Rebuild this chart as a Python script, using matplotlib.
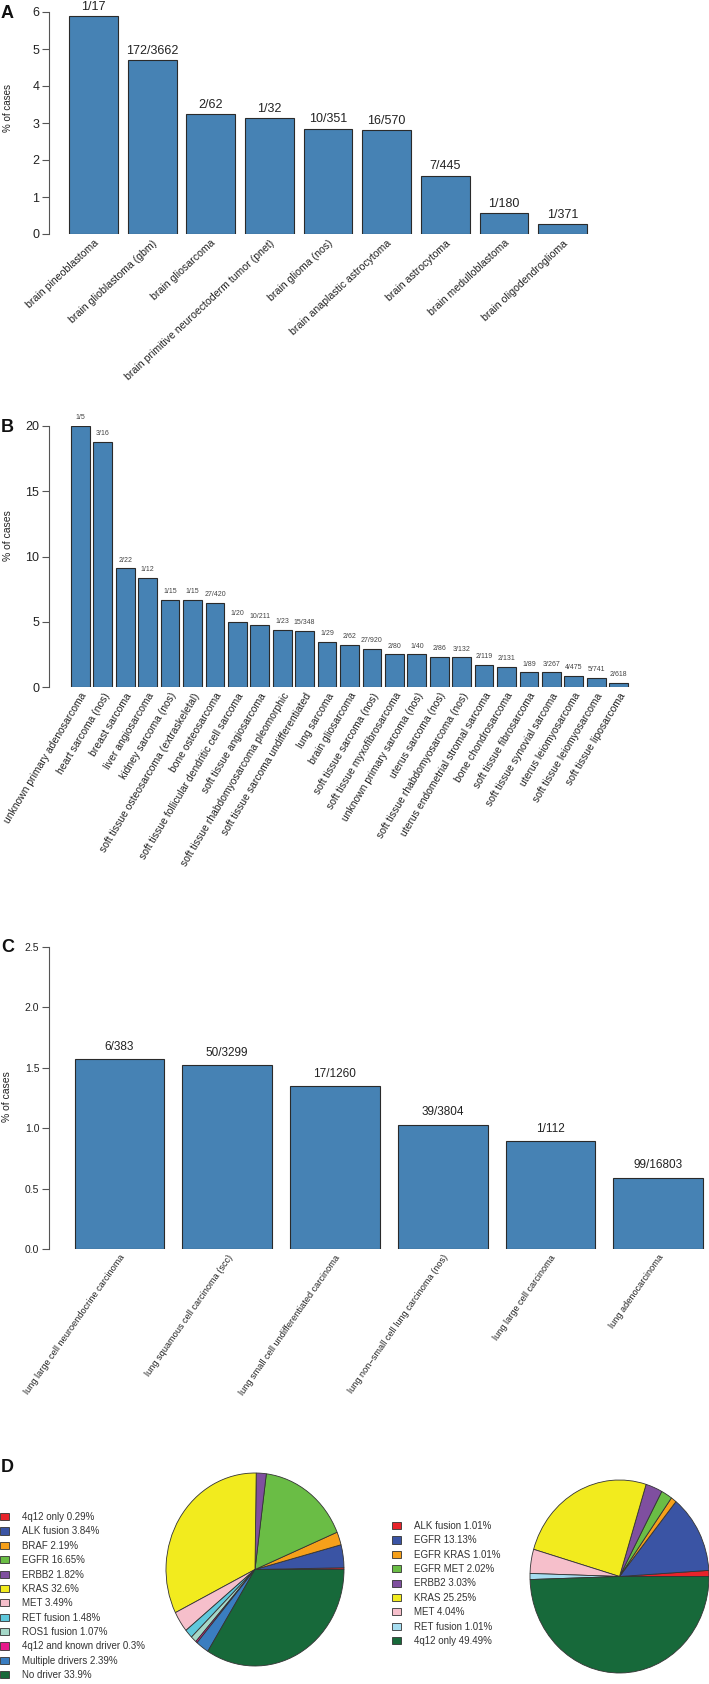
import numpy as np
import matplotlib
matplotlib.use('Agg')
import matplotlib.pyplot as plt

plt.rcParams['font.family'] = ['Liberation Sans', 'DejaVu Sans']

# Panel A
a_names = ['brain pineoblastoma', 'brain glioblastoma (gbm)', 'brain gliosarcoma',
           'brain primitive neuroectoderm tumor (pnet)', 'brain glioma (nos)',
           'brain anaplastic astrocytoma', 'brain astrocytoma', 'brain medulloblastoma',
           'brain oligodendroglioma']
a_pct = [5.88, 4.70, 3.23, 3.13, 2.85, 2.81, 1.57, 0.56, 0.27]
a_counts = ['1/17', '172/3662', '2/62', '1/32', '10/351', '16/570', '7/445', '1/180', '1/371']

# Panel B
b_names = ['unknown primary adenosarcoma', 'heart sarcoma (nos)', 'breast sarcoma',
           'liver angiosarcoma', 'kidney sarcoma (nos)', 'soft tissue osteosarcoma (extraskeletal)',
           'bone osteosarcoma', 'soft tissue follicular dendritic cell sarcoma',
           'soft tissue angiosarcoma', 'soft tissue rhabdomyosarcoma pleomorphic',
           'soft tissue sarcoma undifferentiated', 'lung sarcoma', 'brain gliosarcoma',
           'soft tissue sarcoma (nos)', 'soft tissue myxofibrosarcoma',
           'unknown primary sarcoma (nos)', 'uterus sarcoma (nos)',
           'soft tissue rhabdomyosarcoma (nos)', 'uterus endometrial stromal sarcoma',
           'bone chondrosarcoma', 'soft tissue fibrosarcoma', 'soft tissue synovial sarcoma',
           'uterus leiomyosarcoma', 'soft tissue leiomyosarcoma', 'soft tissue liposarcoma']
b_pct = [20.0, 18.75, 9.09, 8.33, 6.67, 6.67, 6.43, 5.0, 4.74, 4.35, 4.31, 3.45, 3.23,
         2.93, 2.5, 2.5, 2.33, 2.27, 1.68, 1.53, 1.12, 1.12, 0.84, 0.67, 0.32]
b_counts = ['1/5', '3/16', '2/22', '1/12', '1/15', '1/15', '27/420', '1/20', '10/211', '1/23',
            '15/348', '1/29', '2/62', '27/920', '2/80', '1/40', '2/86', '3/132', '2/119',
            '2/131', '1/89', '3/267', '4/475', '5/741', '2/618']

# Panel C
c_names = ['lung large cell neuroendocrine carcinoma', 'lung squamous cell carcinoma (scc)',
           'lung small cell undifferentiated carcinoma',
           'lung non\u2212small cell lung carcinoma (nos)', 'lung large cell carcinoma',
           'lung adenocarcinoma']
c_pct = [1.57, 1.52, 1.35, 1.03, 0.89, 0.59]
c_counts = ['6/383', '50/3299', '17/1260', '39/3804', '1/112', '99/16803']

# Panel D
d1_names = ['4q12 only 0.29%', 'ALK fusion 3.84%', 'BRAF 2.19%', 'EGFR 16.65%', 'ERBB2 1.82%',
            'KRAS 32.6%', 'MET 3.49%', 'RET fusion 1.48%', 'ROS1 fusion 1.07%',
            '4q12 and known driver 0.3%', 'Multiple drivers 2.39%', 'No driver 33.9%']
d1_pct = [0.29, 3.84, 2.19, 16.65, 1.82, 32.6, 3.49, 1.48, 1.07, 0.3, 2.39, 33.9]
d1_cols = ['#e8232a', '#3a54a4', '#f6a01a', '#6abd45', '#7f4f9f', '#f2eb1e', '#f6bfcb',
           '#5fc8dc', '#a5d8c8', '#e7198b', '#3a7dc0', '#17693a']
d2_names = ['ALK fusion 1.01%', 'EGFR 13.13%', 'EGFR KRAS 1.01%', 'EGFR MET 2.02%',
            'ERBB2 3.03%', 'KRAS 25.25%', 'MET 4.04%', 'RET fusion 1.01%', '4q12 only 49.49%']
d2_pct = [1.01, 13.13, 1.01, 2.02, 3.03, 25.25, 4.04, 1.01, 49.49]
d2_cols = ['#e8232a', '#3a54a4', '#f6a01a', '#6abd45', '#7f4f9f', '#f2eb1e', '#f6bfcb',
           '#a6ddf0', '#17693a']

W, H = 709, 1684
fig = plt.figure(figsize=(W / 100, H / 100), dpi=100)

BAR = '#4682b4'
EDGE = '#2a2a2a'
AXC = '#555555'


def px_rect(left, top, right, bottom):
    return [left / W, 1 - bottom / H, (right - left) / W, (bottom - top) / H]


def bar_panel(names, pct, counts, top, bottom, ymax, yticks, ticklabels, first_left, last_right,
              rot, lab_fs, cnt_fs, tick_fs, cnt_col, cnt_pad):
    n = len(names)
    p = (last_right - first_left) / (n - 1 + 0.833)
    c0 = first_left + 0.4167 * p
    ax = fig.add_axes(px_rect(49, top, W, bottom))
    x = np.arange(n)
    ax.bar(x, pct, width=0.833, color=BAR, edgecolor=EDGE, linewidth=0.8)
    ax.set_xlim((49 - c0) / p, (W - c0) / p)
    ax.set_ylim(0, ymax)
    for s in ['top', 'right', 'bottom']:
        ax.spines[s].set_visible(False)
    ax.spines['left'].set_color(AXC)
    ax.spines['left'].set_linewidth(0.8)
    ax.set_yticks(yticks, ticklabels)
    ax.tick_params(axis='y', length=5, width=0.8, color=AXC, labelsize=tick_fs,
                   labelcolor='#222222', pad=2)
    ax.set_xticks(x, names, rotation=rot, ha='right', rotation_mode='anchor')
    ax.tick_params(axis='x', length=0, pad=3, labelsize=lab_fs, labelcolor='#222222')
    for xi, v, c in zip(x, pct, counts):
        ax.annotate(c, (xi, v), xytext=(0, cnt_pad), textcoords='offset points',
                    ha='center', va='bottom', fontsize=cnt_fs, color=cnt_col,
                    annotation_clip=False)
    return ax


bar_panel(a_names, a_pct, a_counts, 12, 234, 6, range(7), [str(i) for i in range(7)],
          69, 587, 43, 7.6, 9, 9, '#222222', 2.5)
bar_panel(b_names, b_pct, b_counts, 426, 687, 20, [0, 5, 10, 15, 20],
          ['0', '5', '10', '15', '20'], 71, 628, 59, 7.5, 5, 9, '#444444', 3.5)
bar_panel(c_names, c_pct, c_counts, 947, 1249, 2.5, [0, 0.5, 1.0, 1.5, 2.0, 2.5],
          ['0.0', '0.5', '1.0', '1.5', '2.0', '2.5'], 74.5, 703, 55, 6.6, 8.5, 7.5,
          '#222222', 4.5)

fig.text(8 / W, 1 - 108 / H, '% of cases', rotation=90, ha='center', va='center',
         fontsize=7, color='#222222')
fig.text(8 / W, 1 - 536 / H, '% of cases', rotation=90, ha='center', va='center',
         fontsize=7.5, color='#222222')
fig.text(7 / W, 1 - 1097 / H, '% of cases', rotation=90, ha='center', va='center',
         fontsize=7.5, color='#222222')

for letter, y in [('A', 13), ('B', 428), ('C', 948), ('D', 1467)]:
    fig.text(1 / W, 1 - y / H, letter, ha='left', va='center', fontsize=13,
             fontweight='bold', color='#111111')

wp = dict(edgecolor='#333333', linewidth=0.6)

ax1 = fig.add_axes(px_rect(166, 1473, 344, 1666))
w1, _ = ax1.pie(d1_pct, colors=d1_cols, startangle=0, counterclock=True, wedgeprops=wp)
ax1.set_aspect('auto')
ax1.set_xlim(-1, 1)
ax1.set_ylim(-1, 1)
ax1.axis('off')

ax2 = fig.add_axes(px_rect(530, 1480, 709, 1673))
w2, _ = ax2.pie(d2_pct, colors=d2_cols, startangle=0, counterclock=True, wedgeprops=wp)
ax2.set_aspect('auto')
ax2.set_xlim(-1, 1)
ax2.set_ylim(-1, 1)
ax2.axis('off')

leg_kw = dict(frameon=False, fontsize=7, handlelength=0.95, handleheight=0.75,
              handletextpad=1.35, labelspacing=0.45, borderpad=0, borderaxespad=0,
              labelcolor='#333333')
fig.legend(w1, d1_names, loc='upper left', bbox_to_anchor=(0 / W, 1 - 1512 / H), **leg_kw)
fig.legend(w2, d2_names, loc='upper left', bbox_to_anchor=(392 / W, 1 - 1521 / H), **leg_kw)

fig.savefig('out.png', dpi=100)
